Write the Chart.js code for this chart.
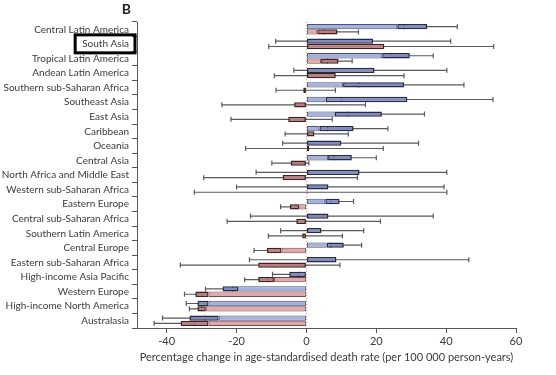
<!DOCTYPE html>
<html>
<head>
<meta charset="utf-8">
<script src="https://cdn.jsdelivr.net/npm/chart.js@4.4.1/dist/chart.umd.min.js"></script>
<style>
  html, body { margin: 0; padding: 0; background: #fff; }
</style>
</head>
<body>
<canvas id="chart" width="556" height="375"></canvas>
<script>
const regions = [
  "Central Latin America", "South Asia", "Tropical Latin America", "Andean Latin America",
  "Southern sub-Saharan Africa", "Southeast Asia", "East Asia", "Caribbean", "Oceania",
  "Central Asia", "North Africa and Middle East", "Western sub-Saharan Africa", "Eastern Europe",
  "Central sub-Saharan Africa", "Southern Latin America", "Central Europe",
  "Eastern sub-Saharan Africa", "High-income Asia Pacific", "Western Europe",
  "High-income North America", "Australasia"
];

// blue series: light part ends at blueLight, outlined part ends at blueTotal
const blueLight = [26.0, 0, 21.7, 0, 10.5, 5.5, 8.1, 3.7, 0, 6.2, 0, 0, 5.4, 0, 0, 5.8, 0, 0, -19.5, -28.0, -25.1];
const blueTotal = [34.6, 19.1, 29.6, 19.5, 28.0, 28.9, 21.6, 13.5, 10.0, 13.0, 15.2, 6.3, 9.5, 6.3, 4.3, 10.7, 8.6, -4.9, -24.0, -31.2, -33.5];
const blueLow   = [28, -8.8, 24, -3.6, 15, 10, 12, 6, -6.8, 8, -14.4, -20.0, 7, -16.0, -7.4, 7, -16.3, -9.7, -28.9, -34.4, -41.2];
const blueHigh  = [43.2, 41.3, 36.3, 40.2, 45.1, 53.4, 33.8, 23.3, 32.1, 20.0, 40.2, 39.4, 13.5, 36.3, 16.4, 15.8, 46.5, -2, -21, -29, -29];

// red series
const redLight = [3.1, 0, 4.2, 0, 0, 0, 0, 0, 0, 0, 0, 0, -2.0, 0, 0, -7.1, 0, -9.3, -28.0, -28.8, -28.0];
const redTotal = [8.9, 22.3, 9.2, 8.4, -0.9, -3.5, -5.2, 2.3, 0.8, -4.5, -6.8, 0.3, -4.7, -2.9, -1.2, -11.3, -13.8, -13.8, -31.8, -31.2, -36.0];
const redLow   = [5, -10.8, 6, -9.2, -8.7, -24.2, -21.6, -6.1, -17.4, -9.9, -29.4, -32.1, -7.4, -22.7, -10.9, -15.0, -36.1, -17.7, -34.9, -33.5, -43.6];
const redHigh  = [14.9, 53.6, 13.1, 27.95, 8.3, 16.9, 7.4, 12.0, 22.0, 0.7, 14.6, 40.2, -3, 21.2, 10.3, -9, 9.6, -11, -30, -30, -32];

const xTicks = [-40, -20, 0, 20, 40, 60];
const highlighted = "South Asia";

const FONT = "Lato, sans-serif";
const LABEL_SIZE = 10;
const TEXT = "#3a3a3a";

const lightPart = vals => vals.map(v => (v === 0 ? null : [0, v]));
const darkPart = (light, total) => total.map((v, i) => [light[i], v]);

// whiskers and the zero line, drawn under the bars
const errorBars = {
  id: "errorBars",
  beforeDatasetsDraw(chart) {
    const { ctx, chartArea } = chart;
    const x = chart.scales.x;
    ctx.save();
    const x0 = Math.round(x.getPixelForValue(0)) + 0.5;
    ctx.strokeStyle = "rgba(196,170,130,0.9)";
    ctx.lineWidth = 1;
    ctx.setLineDash([1, 2]);
    ctx.beginPath();
    ctx.moveTo(x0, chartArea.top);
    ctx.lineTo(x0, chartArea.bottom);
    ctx.stroke();
    ctx.setLineDash([]);

    ctx.strokeStyle = "#5a5a5a";
    ctx.lineWidth = 1.2;
    [[1, blueLow, blueHigh], [3, redLow, redHigh]].forEach(([di, lo, hi]) => {
      chart.getDatasetMeta(di).data.forEach((bar, i) => {
        const y = bar.y;
        const a = x.getPixelForValue(lo[i]);
        const b = x.getPixelForValue(hi[i]);
        ctx.beginPath();
        ctx.moveTo(a, y); ctx.lineTo(b, y);
        ctx.moveTo(a, y - 2.5); ctx.lineTo(a, y + 2.5);
        ctx.moveTo(b, y - 2.5); ctx.lineTo(b, y + 2.5);
        ctx.stroke();
      });
    });
    ctx.restore();
  }
};

// panel letter and the box round the highlighted label
const marks = {
  id: "marks",
  afterDraw(chart) {
    const { ctx, chartArea } = chart;
    const y = chart.scales.y;
    ctx.save();
    ctx.fillStyle = "#222";
    ctx.font = "bold 14px " + FONT;
    ctx.textAlign = "right";
    ctx.textBaseline = "middle";
    ctx.fillText("B", chartArea.left - 6, 9);

    const idx = regions.indexOf(highlighted);
    const cy = y.getPixelForValue(idx);
    ctx.font = LABEL_SIZE + "px " + FONT;
    const w = ctx.measureText(highlighted).width;
    const right = chartArea.left - 2;
    const left = right - 8 - w - 5;
    ctx.strokeStyle = "#000";
    ctx.lineWidth = 3;
    ctx.strokeRect(left, cy - 9, right - left, 18);
    ctx.restore();
  }
};

function createChart() {
  const ctx = document.getElementById("chart");
  return new Chart(ctx, {
    type: "bar",
    data: {
      labels: regions,
      datasets: [
        { data: lightPart(blueLight), stack: "blue", backgroundColor: "#a6b2da", borderColor: "#4a5275", borderWidth: 1 },
        { data: darkPart(blueLight, blueTotal), stack: "blue", backgroundColor: "#7f8bbd", borderColor: "#262b45", borderWidth: 1.5 },
        { data: lightPart(redLight), stack: "red", backgroundColor: "#e2a9ad", borderColor: "#7a4a4a", borderWidth: 1 },
        { data: darkPart(redLight, redTotal), stack: "red", backgroundColor: "#b97d7d", borderColor: "#3e2222", borderWidth: 1.5 }
      ]
    },
    options: {
      indexAxis: "y",
      responsive: false,
      animation: false,
      devicePixelRatio: 1,
      layout: { padding: { top: 22, right: 40, bottom: 0, left: 0 } },
      datasets: { bar: { barPercentage: 1, categoryPercentage: 0.73, borderSkipped: false } },
      plugins: { legend: { display: false }, tooltip: { enabled: false } },
      scales: {
        x: {
          stacked: false,
          min: -48.5,
          max: 60,
          afterBuildTicks: s => { s.ticks = xTicks.map(v => ({ value: v })); },
          afterFit: s => { s.height = 47; },
          grid: { drawOnChartArea: false, tickLength: 5, color: "#555" },
          border: { color: "#555", width: 1 },
          ticks: { color: TEXT, font: { family: FONT, size: 11 }, padding: 2 },
          title: {
            display: true,
            text: "Percentage change in age-standardised death rate (per 100 000 person-years)",
            color: TEXT,
            font: { family: FONT, size: 11 },
            padding: { top: 0, bottom: 11 }
          }
        },
        y: {
          afterFit: s => { s.width = 137; },
          grid: { drawOnChartArea: false, offset: true, tickLength: 5, color: "#555" },
          border: { color: "#555", width: 1 },
          ticks: { color: TEXT, font: { family: FONT, size: LABEL_SIZE }, padding: 3, autoSkip: false }
        }
      }
    },
    plugins: [errorBars, marks]
  });
}

createChart();
</script>
</body>
</html>
